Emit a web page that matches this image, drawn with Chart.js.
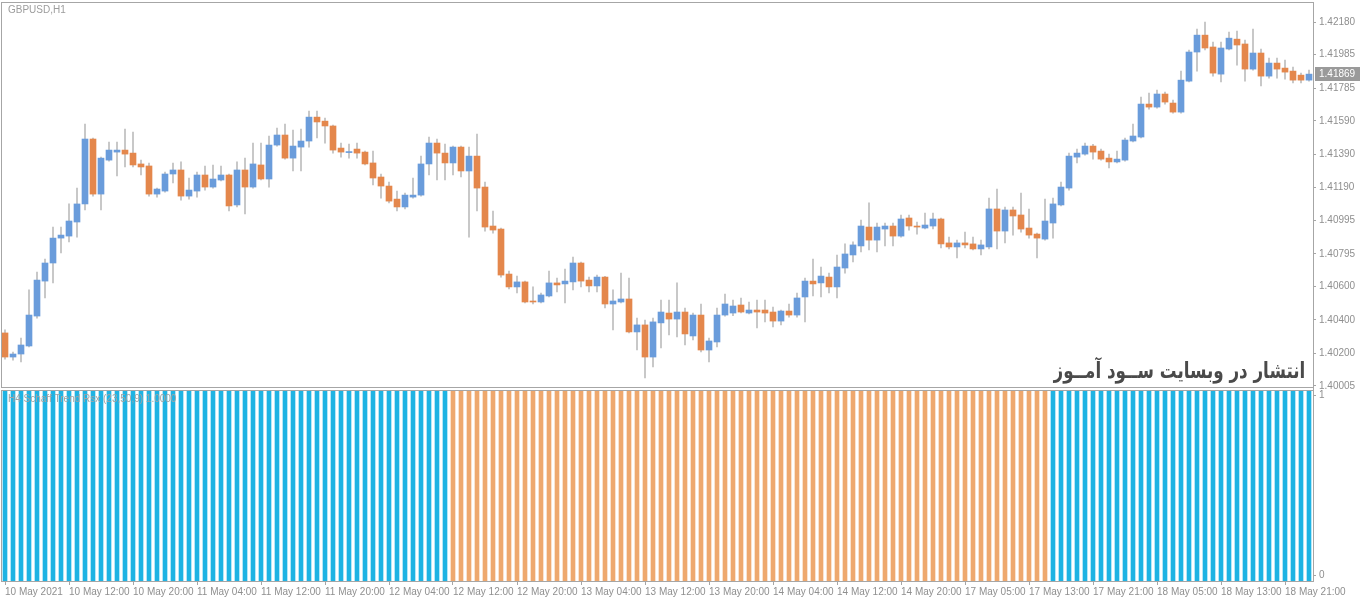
<!DOCTYPE html>
<html>
<head>
<meta charset="utf-8">
<title>GBPUSD,H1</title>
<script src="https://cdn.jsdelivr.net/npm/chart.js@4.4.1/dist/chart.umd.min.js"></script>
<style>
  html, body { margin: 0; padding: 0; background: #fff; }
  #wrap { position: relative; width: 1360px; height: 604px; overflow: hidden; }
  canvas { display: block; }
  #watermark {
    position: absolute; right: 55px; top: 356px;
    font: bold 22px "DejaVu Sans"; color: #4a4a4a;
    direction: rtl; white-space: nowrap; line-height: 30px;
    transform: scaleX(0.76); transform-origin: right center;
  }
</style>
</head>
<body>
<div id="wrap">
  <canvas id="chart" width="1360" height="604"></canvas>
  <div id="watermark">انتشار در وبسایت ســود آمــوز</div>
</div>
<script>
// GBPUSD H1 - nến từ 10 May 04:00 đến 19 May 00:00 (164 nến)

// nhãn trục thời gian, mỗi 8 nến một nhãn
const xLabels = ['10 May 2021', '10 May 12:00', '10 May 20:00', '11 May 04:00', '11 May 12:00',
  '11 May 20:00', '12 May 04:00', '12 May 12:00', '12 May 20:00', '13 May 04:00', '13 May 12:00',
  '13 May 20:00', '14 May 04:00', '14 May 12:00', '14 May 20:00', '17 May 05:00', '17 May 13:00',
  '17 May 21:00', '18 May 05:00', '18 May 13:00', '18 May 21:00'];

const priceTicks = [1.42180, 1.41985, 1.41785, 1.41590, 1.41390, 1.41190,
  1.40995, 1.40795, 1.40600, 1.40400, 1.40200, 1.40005];

const opens = [
  1.40322, 1.40178, 1.40196, 1.40244, 1.40423, 1.40632, 1.40740, 1.40889,
  1.40901, 1.40985, 1.41093, 1.41481, 1.41152, 1.41355, 1.41403, 1.41415,
  1.41397, 1.41332, 1.41320, 1.41152, 1.41170, 1.41272, 1.41296, 1.41140,
  1.41170, 1.41266, 1.41194, 1.41236, 1.41266, 1.41087, 1.41296, 1.41194,
  1.41326, 1.41242, 1.41445, 1.41505, 1.41367, 1.41433, 1.41469, 1.41612,
  1.41588, 1.41559, 1.41427, 1.41400, 1.41421, 1.41403, 1.41338, 1.41254,
  1.41200, 1.41122, 1.41075, 1.41134, 1.41146, 1.41332, 1.41457, 1.41397,
  1.41338, 1.41433, 1.41290, 1.41379, 1.41194, 1.40961, 1.40943, 1.40674,
  1.40597, 1.40627, 1.40513, 1.40507, 1.40543, 1.40621, 1.40615, 1.40627,
  1.40740, 1.40638, 1.40603, 1.40656, 1.40495, 1.40507, 1.40525, 1.40328,
  1.40370, 1.40178, 1.40382, 1.40441, 1.40405, 1.40447, 1.40304, 1.40429,
  1.40220, 1.40268, 1.40429, 1.40441, 1.40489, 1.40441, 1.40459, 1.40459,
  1.40447, 1.40393, 1.40453, 1.40429, 1.40537, 1.40632, 1.40621, 1.40656,
  1.40597, 1.40710, 1.40788, 1.40842, 1.40955, 1.40877, 1.40943, 1.40961,
  1.40901, 1.41009, 1.40961, 1.40949, 1.40961, 1.41003, 1.40860, 1.40836,
  1.40860, 1.40854, 1.40824, 1.40836, 1.41063, 1.40931, 1.41057, 1.41027,
  1.40949, 1.40913, 1.40883, 1.40979, 1.41087, 1.41188, 1.41373, 1.41391,
  1.41439, 1.41409, 1.41367, 1.41344, 1.41355, 1.41469, 1.41493, 1.41690,
  1.41672, 1.41750, 1.41696, 1.41642, 1.41827, 1.42001, 1.42102, 1.42031,
  1.41869, 1.42019, 1.42078, 1.42049, 1.41899, 1.41995, 1.41857, 1.41935,
  1.41905, 1.41887, 1.41863, 1.41833];

const highs = [
  1.40340, 1.40208, 1.40292, 1.40579, 1.40686, 1.40764, 1.40955, 1.40955,
  1.41093, 1.41188, 1.41571, 1.41487, 1.41373, 1.41463, 1.41463, 1.41541,
  1.41523, 1.41355, 1.41338, 1.41188, 1.41284, 1.41338, 1.41344, 1.41248,
  1.41284, 1.41320, 1.41326, 1.41320, 1.41272, 1.41344, 1.41367, 1.41457,
  1.41457, 1.41499, 1.41547, 1.41571, 1.41535, 1.41541, 1.41648, 1.41648,
  1.41606, 1.41565, 1.41457, 1.41451, 1.41457, 1.41409, 1.41409, 1.41272,
  1.41224, 1.41170, 1.41158, 1.41248, 1.41379, 1.41493, 1.41481, 1.41451,
  1.41439, 1.41439, 1.41433, 1.41511, 1.41224, 1.41051, 1.40949, 1.40692,
  1.40662, 1.40632, 1.40597, 1.40561, 1.40692, 1.40650, 1.40704, 1.40776,
  1.40745, 1.40656, 1.40668, 1.40660, 1.40579, 1.40680, 1.40650, 1.40411,
  1.40399, 1.40411, 1.40519, 1.40519, 1.40621, 1.40471, 1.40441, 1.40495,
  1.40292, 1.40471, 1.40555, 1.40519, 1.40531, 1.40507, 1.40519, 1.40519,
  1.40477, 1.40459, 1.40495, 1.40561, 1.40650, 1.40764, 1.40716, 1.40680,
  1.40788, 1.40854, 1.40866, 1.40997, 1.41099, 1.40979, 1.40979, 1.40979,
  1.41027, 1.41027, 1.40985, 1.41039, 1.41039, 1.41009, 1.40895, 1.40877,
  1.40925, 1.40895, 1.40877, 1.41128, 1.41182, 1.41075, 1.41075, 1.41158,
  1.41063, 1.40919, 1.41122, 1.41128, 1.41224, 1.41397, 1.41421, 1.41457,
  1.41450, 1.41421, 1.41391, 1.41409, 1.41487, 1.41571, 1.41732, 1.41756,
  1.41774, 1.41762, 1.41714, 1.41887, 1.42013, 1.42138, 1.42180, 1.42061,
  1.42061, 1.42120, 1.42126, 1.42072, 1.42138, 1.42019, 1.41965, 1.41965,
  1.41953, 1.41911, 1.41875, 1.41893];

const lows = [
  1.40166, 1.40160, 1.40149, 1.40238, 1.40411, 1.40531, 1.40621, 1.40800,
  1.40866, 1.40895, 1.41057, 1.41140, 1.41057, 1.41349, 1.41260, 1.41314,
  1.41314, 1.41266, 1.41140, 1.41134, 1.41164, 1.41218, 1.41116, 1.41122,
  1.41134, 1.41176, 1.41188, 1.41230, 1.41051, 1.41075, 1.41033, 1.41188,
  1.41236, 1.41194, 1.41439, 1.41361, 1.41290, 1.41290, 1.41433, 1.41487,
  1.41457, 1.41397, 1.41373, 1.41367, 1.41367, 1.41326, 1.41206, 1.41128,
  1.41099, 1.41051, 1.41063, 1.41128, 1.41140, 1.41266, 1.41236, 1.41236,
  1.41266, 1.41254, 1.40895, 1.41051, 1.40931, 1.40919, 1.40656, 1.40585,
  1.40561, 1.40501, 1.40495, 1.40501, 1.40537, 1.40567, 1.40501, 1.40579,
  1.40597, 1.40567, 1.40567, 1.40471, 1.40340, 1.40501, 1.40322, 1.40220,
  1.40053, 1.40119, 1.40232, 1.40310, 1.40298, 1.40250, 1.40280, 1.40208,
  1.40149, 1.40238, 1.40423, 1.40425, 1.40441, 1.40435, 1.40352, 1.40388,
  1.40358, 1.40370, 1.40417, 1.40417, 1.40388, 1.40543, 1.40537, 1.40561,
  1.40531, 1.40680, 1.40746, 1.40806, 1.40818, 1.40806, 1.40842, 1.40842,
  1.40895, 1.40937, 1.40913, 1.40943, 1.40943, 1.40830, 1.40824, 1.40770,
  1.40830, 1.40818, 1.40788, 1.40824, 1.40824, 1.40860, 1.40907, 1.40925,
  1.40889, 1.40770, 1.40877, 1.40889, 1.41081, 1.41176, 1.41338, 1.41385,
  1.41361, 1.41355, 1.41308, 1.41338, 1.41349, 1.41463, 1.41487, 1.41660,
  1.41666, 1.41690, 1.41636, 1.41636, 1.41822, 1.41887, 1.42013, 1.41857,
  1.41822, 1.42013, 1.41923, 1.41827, 1.41893, 1.41798, 1.41845, 1.41845,
  1.41839, 1.41816, 1.41816, 1.41827];

const closes = [
  1.40178, 1.40196, 1.40250, 1.40429, 1.40638, 1.40740, 1.40889, 1.40907,
  1.40991, 1.41093, 1.41481, 1.41152, 1.41367, 1.41415, 1.41415, 1.41391,
  1.41326, 1.41314, 1.41152, 1.41182, 1.41272, 1.41296, 1.41140, 1.41176,
  1.41266, 1.41194, 1.41242, 1.41266, 1.41081, 1.41296, 1.41194, 1.41332,
  1.41242, 1.41445, 1.41505, 1.41367, 1.41439, 1.41469, 1.41612, 1.41583,
  1.41559, 1.41415, 1.41403, 1.41405, 1.41397, 1.41332, 1.41248, 1.41200,
  1.41110, 1.41075, 1.41146, 1.41146, 1.41332, 1.41457, 1.41397, 1.41338,
  1.41433, 1.41290, 1.41379, 1.41188, 1.40955, 1.40937, 1.40668, 1.40597,
  1.40627, 1.40507, 1.40507, 1.40549, 1.40621, 1.40609, 1.40632, 1.40740,
  1.40632, 1.40603, 1.40656, 1.40495, 1.40513, 1.40525, 1.40328, 1.40370,
  1.40178, 1.40388, 1.40447, 1.40405, 1.40447, 1.40316, 1.40429, 1.40220,
  1.40274, 1.40429, 1.40495, 1.40483, 1.40447, 1.40459, 1.40447, 1.40441,
  1.40393, 1.40453, 1.40429, 1.40531, 1.40632, 1.40615, 1.40662, 1.40597,
  1.40716, 1.40794, 1.40848, 1.40961, 1.40877, 1.40955, 1.40961, 1.40901,
  1.41003, 1.40961, 1.40955, 1.40967, 1.41003, 1.40854, 1.40836, 1.40860,
  1.40848, 1.40824, 1.40848, 1.41063, 1.40931, 1.41057, 1.41021, 1.40943,
  1.40907, 1.40889, 1.40991, 1.41093, 1.41194, 1.41379, 1.41397, 1.41439,
  1.41403, 1.41361, 1.41344, 1.41361, 1.41475, 1.41499, 1.41690, 1.41672,
  1.41750, 1.41702, 1.41642, 1.41833, 1.42001, 1.42102, 1.42025, 1.41875,
  1.42025, 1.42084, 1.42043, 1.41899, 1.41995, 1.41857, 1.41935, 1.41899,
  1.41881, 1.41833, 1.41833, 1.41869];

// H4 Schaff Trend Rsx: 1 = xu hướng tăng (xanh), -1 = giảm (cam)
const stcTrend = [
  1, 1, 1, 1, 1, 1, 1, 1,   1, 1, 1, 1, 1, 1, 1, 1,
  1, 1, 1, 1, 1, 1, 1, 1,   1, 1, 1, 1, 1, 1, 1, 1,
  1, 1, 1, 1, 1, 1, 1, 1,   1, 1, 1, 1, 1, 1, 1, 1,
  1, 1, 1, 1, 1, 1, 1, 1,
  -1, -1, -1, -1, -1, -1, -1, -1,   -1, -1, -1, -1, -1, -1, -1, -1,
  -1, -1, -1, -1, -1, -1, -1, -1,   -1, -1, -1, -1, -1, -1, -1, -1,
  -1, -1, -1, -1, -1, -1, -1, -1,   -1, -1, -1, -1, -1, -1, -1, -1,
  -1, -1, -1, -1, -1, -1, -1, -1,   -1, -1, -1, -1, -1, -1, -1, -1,
  -1, -1, -1, -1, -1, -1, -1, -1,   -1, -1, -1,
  1, 1, 1, 1, 1,
  1, 1, 1, 1, 1, 1, 1, 1,   1, 1, 1, 1, 1, 1, 1, 1,
  1, 1, 1, 1, 1, 1, 1, 1,   1, 1, 1, 1];

const BULL = '#6a9cdb';
const BEAR = '#e4874c';
const WICK = '#bdbdbd';
const STC_UP = '#1eb3e3';
const STC_DOWN = '#eea86e';
const AXIS = '#a6a6a6';
const TEXT = '#8f8f8f';

Chart.defaults.font.family = '"Liberation Sans", Arial, sans-serif';
Chart.defaults.font.size = 10;

const barIndex = opens.map((_, i) => i);
const isBull = opens.map((o, i) => closes[i] >= o);

// bỏ phần đệm nửa nhãn mà Chart.js tự thêm ở đầu/cuối trục
const noPad = s => { s.paddingTop = 0; s.paddingBottom = 0; };

// khung viền + nhãn giá hiện tại + tên biểu đồ
const mtFrame = {
  id: 'mtFrame',
  afterDraw(chart) {
    const { ctx, chartArea: a, scales } = chart;
    const y = scales.y, y2 = scales.y2;
    ctx.save();
    ctx.strokeStyle = AXIS;
    ctx.lineWidth = 1;
    ctx.strokeRect(a.left + 0.5, y.top + 0.5, a.right - a.left, y.bottom - y.top - 3);
    ctx.strokeRect(a.left + 0.5, y2.top + 0.5, a.right - a.left, y2.bottom - y2.top);

    ctx.font = '10px "Liberation Sans"';
    ctx.textBaseline = 'middle';
    ctx.fillStyle = '#9c9c9c';
    ctx.fillText('GBPUSD,H1', 8, 10);
    ctx.fillStyle = '#a3a3a3';
    ctx.fillText('H4 Schaff Trend Rsx (23,50,9) 1.0000', 8, 399);

    const last = closes[closes.length - 1];
    const py = Math.round(y.getPixelForValue(last));
    ctx.fillStyle = '#9a9a9a';
    ctx.fillRect(a.right + 2, py - 7, 45, 14);
    ctx.fillStyle = '#ffffff';
    ctx.fillText(last.toFixed(5), a.right + 6, py + 0.5);
    ctx.restore();
  }
};

new Chart(document.getElementById('chart').getContext('2d'), {
  type: 'bar',
  data: {
    labels: barIndex,
    datasets: [
      {
        label: 'wick',
        data: lows.map((l, i) => [l, highs[i]]),
        backgroundColor: WICK,
        barThickness: 1,
        grouped: false,
        yAxisID: 'y',
        order: 3
      },
      {
        label: 'body',
        data: opens.map((o, i) => [o, closes[i]]),
        backgroundColor: isBull.map(b => b ? BULL : BEAR),
        barThickness: 6,
        minBarLength: 1,
        grouped: false,
        yAxisID: 'y',
        order: 2
      },
      {
        label: 'stc',
        data: stcTrend.map(d => Math.abs(d)),
        backgroundColor: stcTrend.map(d => d > 0 ? STC_UP : STC_DOWN),
        barThickness: 4,
        grouped: false,
        yAxisID: 'y2',
        order: 1
      }
    ]
  },
  options: {
    responsive: false,
    animation: false,
    layout: { padding: { top: 2, left: 1, right: 0, bottom: 0 } },
    plugins: { legend: { display: false }, tooltip: { enabled: false } },
    scales: {
      x: {
        offset: true,
        grid: { drawOnChartArea: false, offset: false, tickLength: 4, color: AXIS },
        border: { color: AXIS },
        ticks: {
          autoSkip: false, maxRotation: 0, minRotation: 0, align: 'start', padding: 1, color: TEXT,
          callback: (v, i) => (i % 8 === 0 ? xLabels[i / 8] : null)
        },
        afterFit: s => { s.height = 23; s.paddingLeft = 0; s.paddingRight = 0; }
      },
      y: {
        position: 'right',
        stack: 'pane',
        stackWeight: 388,
        min: 1.39981,
        max: 1.42300,
        grid: { drawOnChartArea: false, tickLength: 3, color: AXIS },
        border: { color: AXIS },
        ticks: { color: TEXT, padding: 3, callback: v => Number(v).toFixed(5) },
        afterBuildTicks: s => { s.ticks = priceTicks.map(v => ({ value: v })); },
        afterFit: s => { s.width = 47; noPad(s); }
      },
      y2: {
        position: 'right',
        stack: 'pane',
        stackWeight: 191,
        min: 0,
        max: 1,
        grid: { drawOnChartArea: false, tickLength: 3, color: AXIS },
        border: { color: AXIS },
        ticks: { color: TEXT, padding: 3, callback: v => String(Math.round(v)) },
        // nhãn 0 / 1 nằm ngay trong mép khung như MT4
        afterBuildTicks: s => { s.ticks = [{ value: 0.03 }, { value: 0.97 }]; },
        afterFit: s => { s.width = 47; noPad(s); }
      }
    }
  },
  plugins: [mtFrame]
});
</script>
</body>
</html>
